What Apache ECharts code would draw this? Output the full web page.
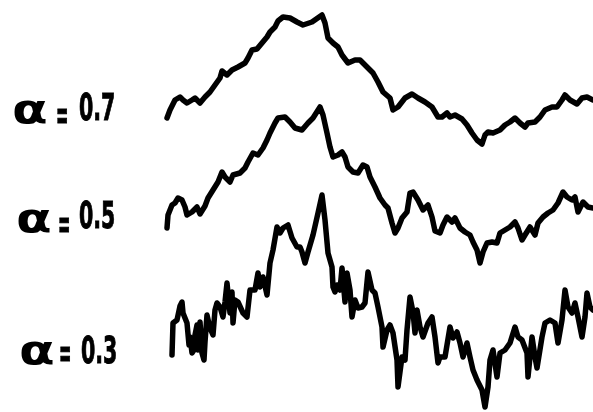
<!DOCTYPE html>
<html>
<head>
<meta charset="utf-8">
<title>Fractional paths</title>
<script src="https://cdn.jsdelivr.net/npm/echarts@6/dist/echarts.min.js"></script>
<style>
  html, body { margin: 0; padding: 0; background: #fff; }
  #chart { width: 593px; height: 412px; }
</style>
</head>
<body>
<div id="chart"></div>
<script>
// Hurst-type exponent of each path, top to bottom
const alphas = ['0.7', '0.5', '0.3'];

// Sampled paths: [step, level]
const pathA = [
  [2,294],[5,302],[10,312],[15,315],[18,312],[22,309],[27,312],[30,314],[35,309],[40,315],
  [45,320],[50,327],[55,334],[57,341],[62,337],[67,342],[73,345],[80,349],[83,354],[87,362],
  [92,363],[97,369],[102,375],[105,380],[110,385],[113,391],[118,395],[125,394],[132,390],[138,387],
  [147,390],[157,397],[160,389],[163,374],[168,369],[173,365],[177,357],[183,349],[190,352],[195,352],
  [202,345],[208,339],[213,330],[218,320],[225,314],[228,302],[233,305],[240,314],[247,318],[253,314],
  [260,310],[267,305],[273,295],[277,295],[282,299],[285,295],[290,297],[297,293],[302,287],[307,279],
  [312,272],[317,268],[320,277],[323,280],[328,279],[335,282],[340,287],[345,290],[350,294],[355,289],
  [360,285],[363,289],[370,290],[375,295],[380,302],[387,305],[392,305],[397,312],[400,317],[405,312],
  [412,308],[417,314],[422,315],[428,312]
];

const pathB = [
  [2,184],[3,197],[7,207],[10,209],[13,214],[17,212],[20,205],[22,197],[27,200],[32,205],
  [35,198],[40,206],[43,214],[48,222],[53,230],[57,240],[60,235],[65,230],[68,237],[75,239],
  [80,244],[83,250],[88,259],[93,257],[98,264],[102,272],[105,279],[110,289],[113,294],[120,295],
  [125,290],[130,284],[137,282],[143,289],[148,294],[155,305],[158,297],[162,279],[165,265],[168,255],
  [173,257],[177,260],[180,255],[183,245],[188,240],[193,239],[198,247],[202,245],[205,235],[210,225],
  [215,214],[220,207],[223,204],[227,189],[230,179],[233,184],[237,194],[242,200],[245,219],[248,220],
  [253,212],[258,202],[263,207],[267,195],[270,181],[275,179],[278,187],[282,195],[287,190],[290,194],
  [295,184],[300,180],[305,177],[308,170],[312,162],[315,149],[318,160],[322,169],[327,170],[332,169],
  [335,179],[340,182],[345,185],[350,190],[353,184],[357,172],[360,177],[365,185],[370,177],[373,189],
  [378,195],[383,199],[388,202],[393,209],[398,220],[402,215],[407,212],[410,215],[413,200],[418,210],
  [423,205],[428,204]
];

const pathC = [
  [7,57],[8,89],[12,92],[15,106],[17,110],[18,99],[22,89],[24,67],[25,75],[27,59],
  [29,62],[30,77],[32,87],[33,62],[35,90],[37,59],[39,52],[40,70],[42,97],[45,84],
  [48,77],[50,102],[52,109],[55,105],[58,95],[60,110],[62,129],[65,99],[67,120],[68,89],
  [70,112],[73,110],[78,99],[82,95],[85,122],[90,122],[93,139],[95,125],[98,135],[102,117],
  [105,149],[108,162],[112,185],[115,179],[118,184],[123,187],[127,174],[132,165],[135,165],[137,160],
  [140,149],[143,160],[148,177],[153,199],[157,217],[160,192],[163,159],[167,145],[168,125],[170,120],
  [172,127],[175,122],[177,144],[179,142],[180,110],[182,139],[185,122],[187,95],[190,112],[193,104],
  [197,105],[200,109],[203,140],[207,122],[210,119],[213,105],[217,85],[218,65],[222,82],[225,87],
  [228,79],[232,52],[233,25],[237,55],[240,52],[242,82],[245,115],[248,100],[250,79],[252,102],
  [255,85],[258,75],[263,89],[267,95],[270,75],[273,49],[275,55],[280,55],[285,85],[288,74],
  [292,80],[295,69],[298,55],[302,69],[305,55],[308,42],[312,32],[317,22],[320,5],[323,25],
  [325,52],[328,62],[332,35],[335,59],[340,62],[345,69],[350,85],[353,75],[357,72],[362,59],
  [363,35],[367,75],[370,55],[372,44],[377,75],[380,89],[385,92],[390,89],[393,69],[397,92],
  [400,122],[403,105],[407,99],[410,109],[413,95],[417,75],[420,95],[422,119],[425,105],[428,102]
];

const paths = [pathA, pathB, pathC];

// Label layout: x of each piece and the vertical centre of each piece
const labelSpots = [
  { ax: 12, ay: 113, ex: 56, ey: 119, nx: 79, ny: 110 },
  { ax: 16, ay: 222, ex: 58, ey: 228, nx: 79, ny: 218 },
  { ax: 19, ay: 354, ex: 59, ey: 357, nx: 81, ny: 353 }
];

const INK = '#000';
const FONT = 'DejaVu Sans, sans-serif';

function piece(text, x, y, size, sx, extra) {
  return {
    type: 'text', x: x, y: y, scaleX: sx,
    style: Object.assign({
      text: text, font: 'bold ' + size + 'px ' + FONT, fill: INK,
      textAlign: 'left', textVerticalAlign: 'middle'
    }, extra || {})
  };
}

function labelGroup(alpha, s) {
  return {
    type: 'group',
    children: [
      piece('α', s.ax, s.ay, 40, 1.3),
      piece('=', s.ex, s.ey, 40, 0.37, { stroke: INK, lineWidth: 1 }),
      piece(alpha, s.nx, s.ny, 38, 0.54, { stroke: INK, lineWidth: 1 })
    ]
  };
}

const chart = echarts.init(document.getElementById('chart'), null, { renderer: 'canvas' });

chart.setOption({
  animation: false,
  backgroundColor: '#fff',
  grid: { left: 165, right: 0, top: 0, bottom: 0, containLabel: false },
  xAxis: { type: 'value', min: 0, max: 428, show: false },
  yAxis: { type: 'value', min: 0, max: 412, show: false },
  series: paths.map((p, i) => ({
    type: 'line',
    name: 'α = ' + alphas[i],
    data: p,
    showSymbol: false,
    smooth: false,
    clip: true,
    lineStyle: { color: INK, width: 5.5, cap: 'round', join: 'round' }
  })),
  graphic: alphas.map((a, i) => labelGroup(a, labelSpots[i]))
});
</script>
</body>
</html>
